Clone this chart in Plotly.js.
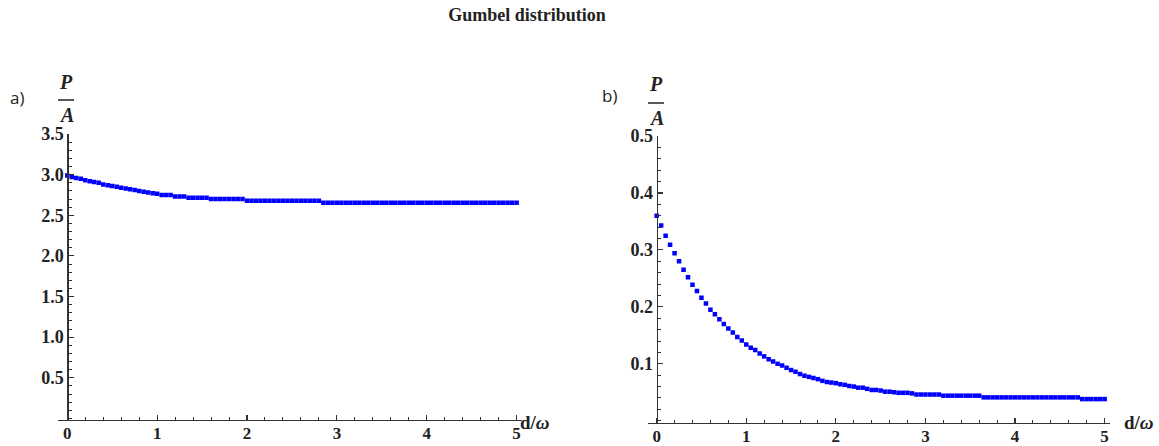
<!DOCTYPE html>
<html>
<head>
<meta charset="utf-8">
<script src="https://cdn.plot.ly/plotly-3.0.1.min.js"></script>
<style>html,body{margin:0;padding:0;background:#fff}#chart{width:1159px;height:446px}</style>
</head>
<body>
<div id="chart"></div>
<script>
// d/ω sample points (shared by both panels)
const dOverOmega = [
  0.00,0.05,0.10,0.15,0.20,0.25,0.30,0.35,0.40,0.45,
  0.50,0.55,0.60,0.65,0.70,0.75,0.80,0.85,0.90,0.95,
  1.00,1.05,1.10,1.15,1.20,1.25,1.30,1.35,1.40,1.45,
  1.50,1.55,1.60,1.65,1.70,1.75,1.80,1.85,1.90,1.95,
  2.00,2.05,2.10,2.15,2.20,2.25,2.30,2.35,2.40,2.45,
  2.50,2.55,2.60,2.65,2.70,2.75,2.80,2.85,2.90,2.95,
  3.00,3.05,3.10,3.15,3.20,3.25,3.30,3.35,3.40,3.45,
  3.50,3.55,3.60,3.65,3.70,3.75,3.80,3.85,3.90,3.95,
  4.00,4.05,4.10,4.15,4.20,4.25,4.30,4.35,4.40,4.45,
  4.50,4.55,4.60,4.65,4.70,4.75,4.80,4.85,4.90,4.95,
  5.00
];

// panel a) P/A
const panelA = [
  2.99,2.97,2.96,2.95,2.93,2.92,2.91,2.90,2.88,2.87,
  2.86,2.85,2.84,2.83,2.82,2.81,2.80,2.79,2.78,2.77,
  2.765,2.75,2.75,2.75,2.73,2.73,2.73,2.715,2.715,2.715,
  2.715,2.715,2.70,2.70,2.70,2.70,2.70,2.70,2.70,2.70,
  2.68,2.68,2.68,2.68,2.68,2.68,2.68,2.68,2.68,2.68,
  2.68,2.68,2.68,2.68,2.68,2.68,2.68,2.655,2.655,2.655,
  2.655,2.655,2.655,2.655,2.655,2.655,2.655,2.655,2.655,2.655,
  2.655,2.655,2.655,2.655,2.655,2.655,2.655,2.655,2.655,2.655,
  2.655,2.655,2.655,2.655,2.655,2.655,2.655,2.655,2.655,2.655,
  2.655,2.655,2.655,2.655,2.655,2.655,2.655,2.655,2.655,2.655,
  2.655
];

// panel b) P/A
const panelB = [
  0.360,0.343,0.325,0.309,0.294,0.280,0.265,0.252,0.239,0.228,
  0.216,0.206,0.195,0.187,0.178,0.170,0.162,0.155,0.147,0.141,
  0.134,0.128,0.124,0.118,0.113,0.108,0.104,0.100,0.097,0.093,
  0.089,0.086,0.082,0.079,0.077,0.075,0.073,0.070,0.068,0.067,
  0.066,0.064,0.063,0.061,0.060,0.058,0.058,0.056,0.054,0.054,
  0.053,0.051,0.051,0.050,0.049,0.049,0.049,0.048,0.046,0.046,
  0.046,0.046,0.046,0.046,0.044,0.044,0.044,0.044,0.044,0.044,
  0.044,0.044,0.044,0.041,0.041,0.041,0.041,0.041,0.041,0.041,
  0.041,0.041,0.041,0.041,0.041,0.041,0.041,0.041,0.041,0.041,
  0.041,0.041,0.041,0.041,0.041,0.038,0.038,0.038,0.038,0.038,
  0.038
];

const xTickVals = [0,1,2,3,4,5];
const xTickText = ['0','1','2','3','4','5'];
const yTickValsA = [0.5,1.0,1.5,2.0,2.5,3.0,3.5];
const yTickTextA = ['0.5','1.0','1.5','2.0','2.5','3.0','3.5'];
const yTickValsB = [0.1,0.2,0.3,0.4,0.5];
const yTickTextB = ['0.1','0.2','0.3','0.4','0.5'];

const W = 1159, H = 446;
const px = v => v / W;
const py = v => 1 - v / H;

const serif = 'Liberation Serif, Times New Roman, serif';
const axisColor = '#333';
const yTickFont = {family: serif, size: 18, color: '#222', weight: 'bold'};
const xTickFont = {family: serif, size: 17, color: '#222', weight: 'bold'};

function xAxis(domain, anchor) {
  return {
    domain: domain, anchor: anchor, range: [-0.1, 5.06],
    showline: true, linecolor: axisColor, linewidth: 1.2,
    showgrid: false, zeroline: false,
    tickmode: 'array', tickvals: xTickVals, ticktext: xTickText,
    ticks: 'inside', ticklen: 5, tickcolor: axisColor, tickwidth: 1.2,
    minor: {tickmode: 'linear', tick0: 0, dtick: 0.2, ticks: 'inside', ticklen: 3, tickcolor: axisColor, tickwidth: 1},
    tickfont: xTickFont, ticklabelstandoff: -3, fixedrange: true
  };
}
function yAxis(domain, pos, range, vals, text, minorDt) {
  return {
    domain: domain, anchor: 'free', position: pos, range: range,
    showline: true, linecolor: axisColor, linewidth: 1.2,
    showgrid: false, zeroline: false,
    tickmode: 'array', tickvals: vals, ticktext: text,
    ticks: 'inside', ticklen: 5, tickcolor: axisColor, tickwidth: 1.2,
    minor: {tickmode: 'linear', tick0: 0, dtick: minorDt, ticks: 'inside', ticklen: 3, tickcolor: axisColor, tickwidth: 1},
    tickfont: yTickFont, fixedrange: true
  };
}

const marker = {color: '#0000ff', size: 4.5, symbol: 'square'};

const data = [
  {x: dOverOmega, y: panelA, type: 'scatter', mode: 'markers', marker: marker, xaxis: 'x', yaxis: 'y', hoverinfo: 'x+y'},
  {x: dOverOmega, y: panelB, type: 'scatter', mode: 'markers', marker: marker, xaxis: 'x2', yaxis: 'y2', hoverinfo: 'x+y'}
];

function ann(x, y, text, font) {
  return {xref: 'paper', yref: 'paper', x: px(x), y: py(y), text: text, showarrow: false,
          xanchor: 'center', yanchor: 'middle', font: font};
}
const labFont = {family: 'Open Sans, Liberation Sans, sans-serif', size: 17, color: '#222'};
const fracFont = {family: serif, size: 20, color: '#222'};
const dwFont = {family: serif, size: 19, color: '#222'};

const layout = {
  width: W, height: H,
  margin: {l: 0, r: 0, t: 0, b: 0},
  paper_bgcolor: '#fff', plot_bgcolor: '#fff',
  showlegend: false,
  title: {text: '<b>Gumbel distribution</b>', font: {family: serif, size: 18, color: '#222'},
          x: px(527), y: py(15), xanchor: 'center', yanchor: 'middle', xref: 'paper', yref: 'paper'},
  xaxis: xAxis([px(58.3), px(522)], 'y'),
  yaxis: yAxis([py(420), py(134)], px(67.3), [-0.02, 3.5], yTickValsA, yTickTextA, 0.1),
  xaxis2: xAxis([px(647.7), px(1110)], 'y2'),
  yaxis2: yAxis([py(423), py(136)], px(656.7), [-0.004, 0.5], yTickValsB, yTickTextB, 0.02),
  annotations: [
    ann(17, 98, 'a)', labFont),
    ann(609, 95, 'b)', labFont),
    ann(66, 82, '<b><i>P</i></b>', fracFont),
    ann(66, 115, '<b><i>A</i></b>', fracFont),
    ann(656, 84, '<b><i>P</i></b>', fracFont),
    ann(656, 118, '<b><i>A</i></b>', fracFont),
    ann(535, 422, '<b>d/<i>ω</i></b>', dwFont),
    ann(1139, 422, '<b>d/<i>ω</i></b>', dwFont)
  ],
  shapes: [
    {type: 'line', xref: 'paper', yref: 'paper', x0: px(58), x1: px(74), y0: py(100), y1: py(100), line: {color: '#222', width: 1.5}},
    {type: 'line', xref: 'paper', yref: 'paper', x0: px(648), x1: px(664), y0: py(103), y1: py(103), line: {color: '#222', width: 1.5}}
  ]
};

Plotly.newPlot('chart', data, layout, {displayModeBar: false, staticPlot: true});
</script>
</body>
</html>
